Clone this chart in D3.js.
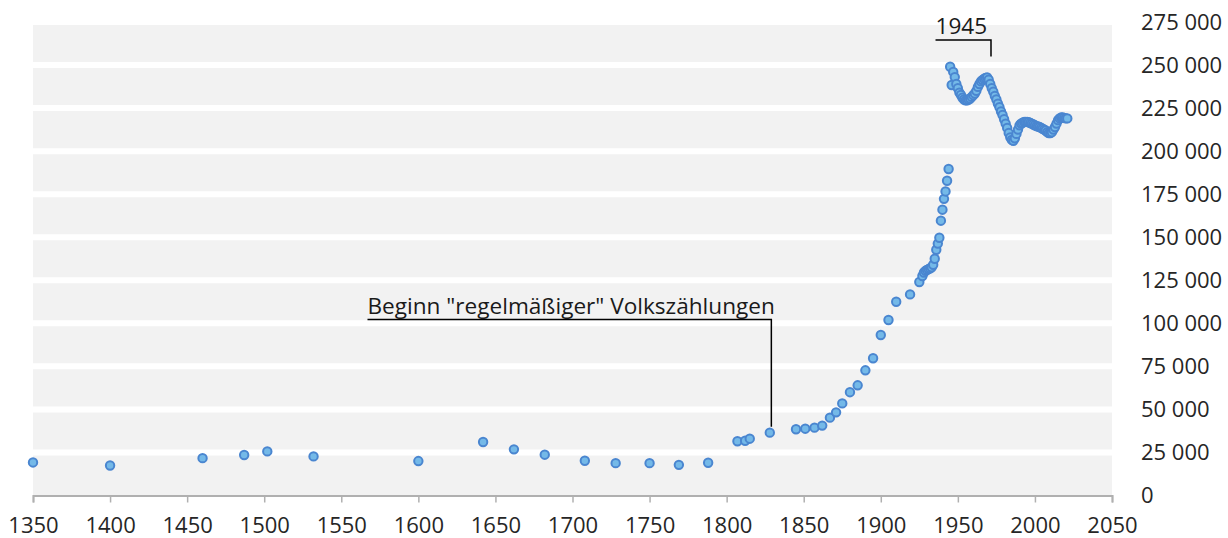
<html>
<head>
  <script src="https://d3js.org/d3.v7.min.js"></script>
  <style>
  body { margin: 0; background: #fff; }
  svg { font-family: "Open Sans", sans-serif; }
  </style>
</head>
<body>
  <svg width="1228" height="538"></svg>

<script>
// population by year
var years = [1350, 1400, 1460, 1487, 1502, 1532, 1600, 1642, 1662, 1682, 1708, 1728, 1750, 1769, 1788,
  1807, 1812, 1815, 1828, 1845, 1851, 1857, 1862, 1867, 1871, 1875, 1880, 1885, 1890, 1895, 1900,
  1905, 1910, 1919, 1925, 1927, 1928, 1929, 1930, 1931, 1932, 1933, 1934, 1935, 1936, 1937, 1938,
  1939, 1940, 1941, 1942, 1943, 1944,
  1945, 1946, 1947, 1948, 1949, 1950, 1951, 1952, 1953, 1954, 1955, 1956, 1957, 1958, 1959,
  1960, 1961, 1962, 1963, 1964, 1965, 1966, 1967, 1968, 1969, 1970, 1971, 1972, 1973, 1974,
  1975, 1976, 1977, 1978, 1979, 1980, 1981, 1982, 1983, 1984, 1985, 1986, 1987, 1988, 1989,
  1990, 1991, 1992, 1993, 1994, 1995, 1996, 1997, 1998, 1999, 2000, 2001, 2002, 2003, 2004,
  2005, 2006, 2007, 2008, 2009, 2010, 2011, 2012, 2013, 2014, 2015, 2016, 2017, 2018, 2019,
  2020, 2021];

var population = [19200, 17400, 21700, 23500, 25600, 22700, 20000, 31100, 26800, 23700, 20200, 18800, 18800, 17800, 19000,
  31500, 31800, 33000, 36500, 38500, 38800, 39400, 40600, 45200, 48300, 53500, 60000, 64000, 72700, 79700, 93200,
  101900, 112500, 116800, 124000, 127500, 129500, 130500, 131000, 131500, 132000, 132500, 134000, 137500, 142700, 146300, 149700,
  159600, 166000, 172300, 176600, 182800, 189600,
  249000, 238400, 246000, 243000, 239000, 236500, 234000, 232600, 231000, 230000, 229500, 229500, 230000, 230600, 231500,
  232500, 233500, 235000, 237300, 239000, 240500, 241300, 242000, 242500, 242800, 241500, 239000, 236500, 234500, 232000,
  230000, 227500, 225500, 223000, 221000, 218500, 216000, 213500, 210500, 208000, 206500, 206000, 207500, 210000, 212500,
  215000, 216000, 216500, 217000, 217000, 217000, 216800, 216300, 216000, 215500, 215000, 214500, 214300, 214000, 213500,
  213000, 212500, 212000, 211000, 210500, 210500, 211000, 212500, 214000, 216000, 218000, 219000, 219500, 219500, 219300,
  219000, 219000];

var yTicks = [0, 25000, 50000, 75000, 100000, 125000, 150000, 175000, 200000, 225000, 250000, 275000];
var xTicks = [1350, 1400, 1450, 1500, 1550, 1600, 1650, 1700, 1750, 1800, 1850, 1900, 1950, 2000, 2050];

var notes = [
  {text: "Beginn \"regelmäßiger\" Volkszählungen", year: 1829, value: 40000, fromYear: 1567, lineValue: 102200},
  {text: "1945", year: 1971.5, value: 255000, fromYear: 1935.5, lineValue: 264500}
];

var svg = d3.select("svg");
var x = d3.scaleLinear().domain([1350, 2050]).range([33, 1112]);
var y = d3.scaleLinear().domain([0, 275000]).range([495.5, 22]);

var fmt = function(d) { return d3.format(",")(d).replace(/,/g, " "); };

// plot background
svg.append("rect")
  .attr("x", x(1350)).attr("y", y(275000))
  .attr("width", x(2050) - x(1350)).attr("height", y(0) - y(275000))
  .attr("fill", "#f2f2f2");

svg.selectAll("line.grid").data(yTicks.slice(1)).enter().append("line")
  .attr("class", "grid")
  .attr("x1", x(1350)).attr("x2", x(2050))
  .attr("y1", d => y(d)).attr("y2", d => y(d))
  .attr("stroke", "#fff").attr("stroke-width", 6);

// y labels on the right
svg.selectAll("text.ylab").data(yTicks).enter().append("text")
  .attr("class", "ylab")
  .attr("x", 1141).attr("y", d => y(d))
  .attr("dy", "0.35em")
  .attr("font-size", 22).attr("fill", "#262626")
  .text(fmt);

// x axis
var xAxis = svg.append("g")
  .attr("transform", "translate(0," + y(0) + ")")
  .call(d3.axisBottom(x).tickValues(xTicks).tickFormat(d3.format("d")).tickSize(7).tickPadding(15));
xAxis.select(".domain").attr("stroke", "#b0b0b0").attr("stroke-width", 2);
xAxis.selectAll(".tick line").attr("stroke", "#b0b0b0").attr("stroke-width", 1.5);
xAxis.selectAll(".tick text").attr("font-size", 22).attr("fill", "#262626")
  .attr("font-family", "Open Sans, sans-serif");

// annotations
notes.forEach(function(n) {
  var ly = y(n.lineValue);
  svg.append("path")
    .attr("d", "M" + x(n.fromYear) + "," + ly + "H" + x(n.year) + "V" + y(n.value))
    .attr("fill", "none").attr("stroke", "#000").attr("stroke-width", 1.5);
  svg.append("text")
    .attr("x", x(n.fromYear)).attr("y", ly - 6)
    .attr("font-size", 22.6).attr("fill", "#1a1a1a")
    .text(n.text);
});

// points
svg.selectAll("circle").data(years).enter().append("circle")
  .attr("cx", d => x(d))
  .attr("cy", (d, i) => y(population[i]))
  .attr("r", 4.2)
  .attr("fill", "#74b9e8")
  .attr("stroke", "#4a86d0")
  .attr("stroke-width", 2);
</script>

</body></html>
